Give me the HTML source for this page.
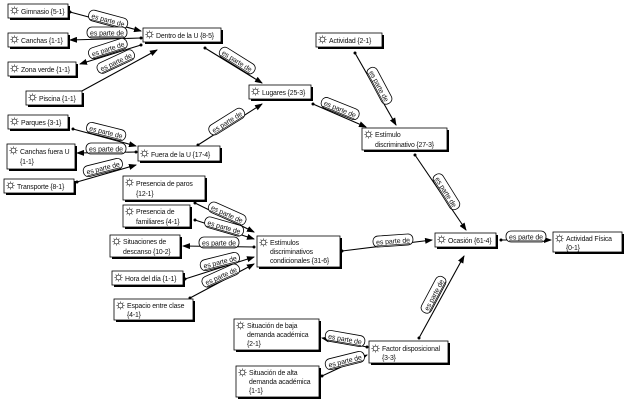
<!DOCTYPE html>
<html><head><meta charset="utf-8"><style>
html,body{margin:0;padding:0;background:#fff;}
svg{display:block;font-family:"Liberation Sans",sans-serif;}
.n rect.b{fill:#fff;stroke:#000;stroke-width:0.8;}
.n rect.s{fill:#000;}
.t{font-size:6.9px;fill:#111;letter-spacing:-0.15px;}
.l{fill:#fff;stroke:#000;stroke-width:0.8;}
.lt{font-size:7px;fill:#111;text-decoration:underline;letter-spacing:-0.1px;}
line{stroke:#000;stroke-width:1.1;}
</style></head><body>
<svg width="624" height="401" viewBox="0 0 624 401" xmlns="http://www.w3.org/2000/svg">
<defs>
<marker id="a" markerWidth="8" markerHeight="6" refX="7" refY="3" orient="auto" markerUnits="userSpaceOnUse"><path d="M0,0 L8,3 L0,6 z" fill="#000"/></marker>
<marker id="d" markerWidth="4" markerHeight="4" refX="2" refY="2" markerUnits="userSpaceOnUse"><circle cx="2" cy="2" r="1.5" fill="#000"/></marker>
<symbol id="ic" viewBox="0 0 10 10"><circle cx="5" cy="5" r="2.6" fill="none" stroke="#333" stroke-width="0.8"/><path d="M5 0.5V2M5 8V9.5M0.5 5H2M8 5H9.5M1.8 1.8L2.9 2.9M7.1 7.1L8.2 8.2M1.8 8.2L2.9 7.1M7.1 2.9L8.2 1.8" stroke="#333" stroke-width="0.8"/></symbol>
</defs>

<g>
<line x1="70" y1="12" x2="141" y2="31" marker-start="url(#d)" marker-end="url(#a)"/>
<line x1="141" y1="38" x2="70" y2="40" marker-start="url(#d)" marker-end="url(#a)"/>
<line x1="141" y1="45" x2="80" y2="64" marker-start="url(#d)" marker-end="url(#a)"/>
<line x1="80" y1="92" x2="157" y2="50" marker-start="url(#d)" marker-end="url(#a)"/>
<line x1="205" y1="48" x2="262" y2="83" marker-start="url(#d)" marker-end="url(#a)"/>
<line x1="198" y1="145" x2="262" y2="104" marker-start="url(#d)" marker-end="url(#a)"/>
<line x1="73" y1="129" x2="136" y2="146" marker-start="url(#d)" marker-end="url(#a)"/>
<line x1="136" y1="152" x2="77" y2="153" marker-start="url(#d)" marker-end="url(#a)"/>
<line x1="77" y1="182" x2="136" y2="165" marker-start="url(#d)" marker-end="url(#a)"/>
<line x1="313" y1="104" x2="366" y2="127" marker-start="url(#d)" marker-end="url(#a)"/>
<line x1="355" y1="53" x2="396" y2="125" marker-start="url(#d)" marker-end="url(#a)"/>
<line x1="415" y1="155" x2="466" y2="230" marker-start="url(#d)" marker-end="url(#a)"/>
<line x1="342" y1="251" x2="432" y2="240" marker-start="url(#d)" marker-end="url(#a)"/>
<line x1="501" y1="240" x2="551" y2="240" marker-start="url(#d)" marker-end="url(#a)"/>
<line x1="419" y1="338" x2="464" y2="256" marker-start="url(#d)" marker-end="url(#a)"/>
<line x1="195" y1="203" x2="254" y2="232" marker-start="url(#d)" marker-end="url(#a)"/>
<line x1="195" y1="220" x2="254" y2="239" marker-start="url(#d)" marker-end="url(#a)"/>
<line x1="254" y1="247" x2="183" y2="246" marker-start="url(#d)" marker-end="url(#a)"/>
<line x1="185" y1="279" x2="254" y2="257" marker-start="url(#d)" marker-end="url(#a)"/>
<line x1="190" y1="298" x2="254" y2="264" marker-start="url(#d)" marker-end="url(#a)"/>
<line x1="367" y1="347" x2="322" y2="338" marker-start="url(#d)" marker-end="url(#a)"/>
<line x1="322" y1="376" x2="367" y2="355" marker-start="url(#d)" marker-end="url(#a)"/>
</g>

<g>
<g transform="translate(108,20) rotate(15)"><rect class="l" x="-20" y="-6" width="40" height="11" rx="5"/><text class="lt" x="0" y="2.5" text-anchor="middle">es parte de</text></g>
<g transform="translate(107,33)"><rect class="l" x="-20" y="-6" width="40" height="11" rx="5"/><text class="lt" x="0" y="2.5" text-anchor="middle">es parte de</text></g>
<g transform="translate(108,49) rotate(-18)"><rect class="l" x="-20" y="-6" width="40" height="11" rx="5"/><text class="lt" x="0" y="2.5" text-anchor="middle">es parte de</text></g>
<g transform="translate(116,62) rotate(-25)"><rect class="l" x="-20" y="-6" width="40" height="11" rx="5"/><text class="lt" x="0" y="2.5" text-anchor="middle">es parte de</text></g>
<g transform="translate(237,61) rotate(32)"><rect class="l" x="-20" y="-6" width="40" height="11" rx="5"/><text class="lt" x="0" y="2.5" text-anchor="middle">es parte de</text></g>
<g transform="translate(227,122) rotate(-32)"><rect class="l" x="-20" y="-6" width="40" height="11" rx="5"/><text class="lt" x="0" y="2.5" text-anchor="middle">es parte de</text></g>
<g transform="translate(106,132) rotate(14)"><rect class="l" x="-20" y="-6" width="40" height="11" rx="5"/><text class="lt" x="0" y="2.5" text-anchor="middle">es parte de</text></g>
<g transform="translate(106,149)"><rect class="l" x="-20" y="-6" width="40" height="11" rx="5"/><text class="lt" x="0" y="2.5" text-anchor="middle">es parte de</text></g>
<g transform="translate(103,168) rotate(-14)"><rect class="l" x="-20" y="-6" width="40" height="11" rx="5"/><text class="lt" x="0" y="2.5" text-anchor="middle">es parte de</text></g>
<g transform="translate(340,109) rotate(22)"><rect class="l" x="-20" y="-6" width="40" height="11" rx="5"/><text class="lt" x="0" y="2.5" text-anchor="middle">es parte de</text></g>
<g transform="translate(379,86) rotate(62)"><rect class="l" x="-20" y="-6" width="40" height="11" rx="5"/><text class="lt" x="0" y="2.5" text-anchor="middle">es parte de</text></g>
<g transform="translate(446,192) rotate(58)"><rect class="l" x="-20" y="-6" width="40" height="11" rx="5"/><text class="lt" x="0" y="2.5" text-anchor="middle">es parte de</text></g>
<g transform="translate(393,241) rotate(-4)"><rect class="l" x="-20" y="-6" width="40" height="11" rx="5"/><text class="lt" x="0" y="2.5" text-anchor="middle">es parte de</text></g>
<g transform="translate(526,237)"><rect class="l" x="-20" y="-6" width="40" height="11" rx="5"/><text class="lt" x="0" y="2.5" text-anchor="middle">es parte de</text></g>
<g transform="translate(434,295) rotate(-62)"><rect class="l" x="-20" y="-6" width="40" height="11" rx="5"/><text class="lt" x="0" y="2.5" text-anchor="middle">es parte de</text></g>
<g transform="translate(227,214) rotate(24)"><rect class="l" x="-20" y="-6" width="40" height="11" rx="5"/><text class="lt" x="0" y="2.5" text-anchor="middle">es parte de</text></g>
<g transform="translate(224,227) rotate(16)"><rect class="l" x="-20" y="-6" width="40" height="11" rx="5"/><text class="lt" x="0" y="2.5" text-anchor="middle">es parte de</text></g>
<g transform="translate(219,243)"><rect class="l" x="-20" y="-6" width="40" height="11" rx="5"/><text class="lt" x="0" y="2.5" text-anchor="middle">es parte de</text></g>
<g transform="translate(220,262) rotate(-14)"><rect class="l" x="-20" y="-6" width="40" height="11" rx="5"/><text class="lt" x="0" y="2.5" text-anchor="middle">es parte de</text></g>
<g transform="translate(221,276) rotate(-24)"><rect class="l" x="-20" y="-6" width="40" height="11" rx="5"/><text class="lt" x="0" y="2.5" text-anchor="middle">es parte de</text></g>
<g transform="translate(345,339) rotate(10)"><rect class="l" x="-20" y="-6" width="40" height="11" rx="5"/><text class="lt" x="0" y="2.5" text-anchor="middle">es parte de</text></g>
<g transform="translate(345,361) rotate(-14)"><rect class="l" x="-20" y="-6" width="40" height="11" rx="5"/><text class="lt" x="0" y="2.5" text-anchor="middle">es parte de</text></g>
</g>

<g class="n">
<rect class="s" x="10" y="6" width="60" height="14"/><rect class="b" x="8" y="4" width="60" height="14"/><use href="#ic" x="10" y="6" width="9" height="9"/><text class="t" x="21" y="14">Gimnasio {5-1}</text>
<rect class="s" x="10" y="35" width="60" height="14"/><rect class="b" x="8" y="33" width="60" height="14"/><use href="#ic" x="10" y="35" width="9" height="9"/><text class="t" x="21" y="43">Canchas {1-1}</text>
<rect class="s" x="10" y="64" width="68" height="14"/><rect class="b" x="8" y="62" width="68" height="14"/><use href="#ic" x="10" y="64" width="9" height="9"/><text class="t" x="21" y="72">Zona verde {1-1}</text>
<rect class="s" x="28" y="93" width="56" height="14"/><rect class="b" x="26" y="91" width="56" height="14"/><use href="#ic" x="28" y="93" width="9" height="9"/><text class="t" x="39" y="101">Piscina {1-1}</text>
<rect class="s" x="145" y="30" width="78" height="14"/><rect class="b" x="143" y="28" width="78" height="14"/><use href="#ic" x="145" y="30" width="9" height="9"/><text class="t" x="156" y="38">Dentro de la U {8-5}</text>
<rect class="s" x="251" y="87" width="62" height="14"/><rect class="b" x="249" y="85" width="62" height="14"/><use href="#ic" x="251" y="87" width="9" height="9"/><text class="t" x="262" y="95">Lugares {25-3}</text>
<rect class="s" x="10" y="117" width="60" height="14"/><rect class="b" x="8" y="115" width="60" height="14"/><use href="#ic" x="10" y="117" width="9" height="9"/><text class="t" x="21" y="125">Parques {3-1}</text>
<rect class="s" x="9" y="146" width="68" height="25"/><rect class="b" x="7" y="144" width="68" height="25"/><use href="#ic" x="9" y="146" width="9" height="9"/><text class="t" x="20" y="154">Canchas fuera U</text><text class="t" x="20" y="164">{1-1}</text>
<rect class="s" x="140" y="148" width="82" height="15"/><rect class="b" x="138" y="146" width="82" height="15"/><use href="#ic" x="140" y="149" width="9" height="9"/><text class="t" x="151" y="157">Fuera de la U {17-4}</text>
<rect class="s" x="6" y="181" width="70" height="14"/><rect class="b" x="4" y="179" width="70" height="14"/><use href="#ic" x="6" y="181" width="9" height="9"/><text class="t" x="17" y="189">Transporte {8-1}</text>
<rect class="s" x="125" y="178" width="82" height="24"/><rect class="b" x="123" y="176" width="82" height="24"/><use href="#ic" x="125" y="178" width="9" height="9"/><text class="t" x="136" y="186">Presencia de paros</text><text class="t" x="136" y="196">{12-1}</text>
<rect class="s" x="125" y="207" width="67" height="22"/><rect class="b" x="123" y="205" width="67" height="22"/><use href="#ic" x="125" y="207" width="9" height="9"/><text class="t" x="136" y="214">Presencia de</text><text class="t" x="136" y="224">familiares {4-1}</text>
<rect class="s" x="112" y="237" width="70" height="22"/><rect class="b" x="110" y="235" width="70" height="22"/><use href="#ic" x="112" y="237" width="9" height="9"/><text class="t" x="123" y="244">Situaciones de</text><text class="t" x="123" y="254">descanso {10-2}</text>
<rect class="s" x="114" y="273" width="71" height="14"/><rect class="b" x="112" y="271" width="71" height="14"/><use href="#ic" x="114" y="273" width="9" height="9"/><text class="t" x="125" y="281">Hora del día {1-1}</text>
<rect class="s" x="116" y="301" width="79" height="21"/><rect class="b" x="114" y="299" width="79" height="21"/><use href="#ic" x="116" y="301" width="9" height="9"/><text class="t" x="127" y="308">Espacio entre clase</text><text class="t" x="127" y="317">{4-1}</text>
<rect class="s" x="259" y="238" width="83" height="31"/><rect class="b" x="257" y="236" width="83" height="31"/><use href="#ic" x="259" y="238" width="9" height="9"/><text class="t" x="270" y="245">Estímulos</text><text class="t" x="270" y="254">discriminativos</text><text class="t" x="270" y="263">condicionales {31-6}</text>
<rect class="s" x="236" y="321" width="85" height="31"/><rect class="b" x="234" y="319" width="85" height="31"/><use href="#ic" x="236" y="321" width="9" height="9"/><text class="t" x="247" y="328">Situación de baja</text><text class="t" x="247" y="337">demanda académica</text><text class="t" x="247" y="346">{2-1}</text>
<rect class="s" x="371" y="343" width="79" height="22"/><rect class="b" x="369" y="341" width="79" height="22"/><use href="#ic" x="371" y="344" width="9" height="9"/><text class="t" x="382" y="351">Factor disposicional</text><text class="t" x="382" y="360">{3-3}</text>
<rect class="s" x="238" y="368" width="83" height="31"/><rect class="b" x="236" y="366" width="83" height="31"/><use href="#ic" x="238" y="368" width="9" height="9"/><text class="t" x="249" y="375">Situación de alta</text><text class="t" x="249" y="384">demanda académica</text><text class="t" x="249" y="393">{1-1}</text>
<rect class="s" x="318" y="35" width="66" height="14"/><rect class="b" x="316" y="33" width="66" height="14"/><use href="#ic" x="318" y="35" width="9" height="9"/><text class="t" x="329" y="43">Actividad {2-1}</text>
<rect class="s" x="364" y="130" width="85" height="22"/><rect class="b" x="362" y="128" width="85" height="22"/><use href="#ic" x="364" y="130" width="9" height="9"/><text class="t" x="375" y="137">Estímulo</text><text class="t" x="375" y="147">discriminativo {27-3}</text>
<rect class="s" x="437" y="235" width="61" height="14"/><rect class="b" x="435" y="233" width="61" height="14"/><use href="#ic" x="437" y="235" width="9" height="9"/><text class="t" x="448" y="243">Ocasión {61-4}</text>
<rect class="s" x="555" y="234" width="69" height="20"/><rect class="b" x="553" y="232" width="69" height="20"/><use href="#ic" x="555" y="234" width="9" height="9"/><text class="t" x="566" y="241">Actividad Física</text><text class="t" x="566" y="250">{0-1}</text>
</g>
</svg>
</body></html>
